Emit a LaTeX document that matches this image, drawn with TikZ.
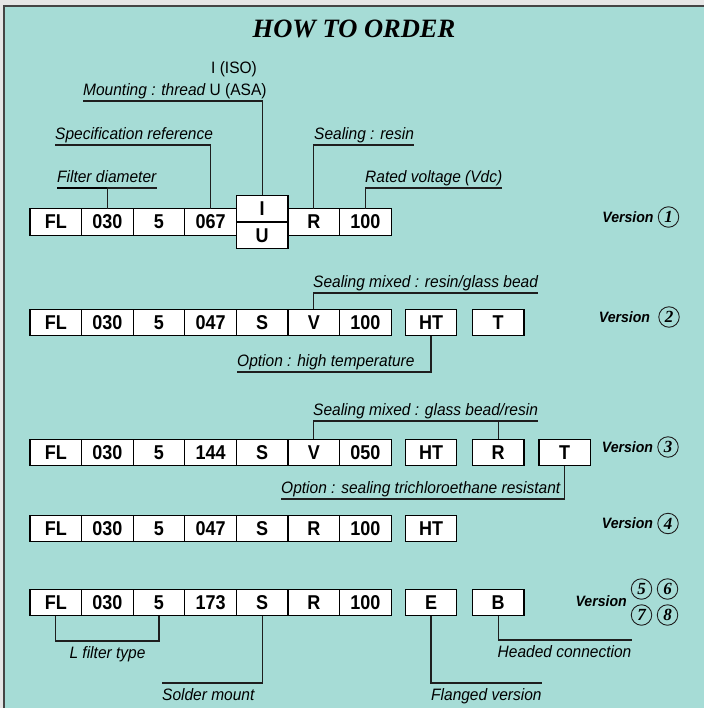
\documentclass[tikz,border=0pt]{standalone}
\usepackage{fontspec}
\usetikzlibrary{positioning}
\setmainfont{Liberation Sans}
\newfontfamily\cellfam[FakeStretch=0.9]{Liberation Sans}
\newfontfamily\tagfam[FakeStretch=0.94]{Liberation Sans}
\newfontfamily\titlefam{Liberation Serif}
\definecolor{panel}{HTML}{A6DCD6}
\definecolor{rim}{HTML}{E6E6E6}
\definecolor{edge}{HTML}{454545}
\definecolor{ink}{HTML}{1E1E1E}
\tikzset{
  cell/.style={draw, line width=1.2pt, fill=white, minimum width=51.6, minimum height=26.5,
    inner sep=0pt, outer sep=0pt, font=\cellfam\bfseries\fontsize{20}{20}\selectfont},
  tag/.style={inner xsep=0pt, inner ysep=1.5pt, text height=12pt, text depth=4pt,
    font=\tagfam\itshape\fontsize{16.5}{18}\selectfont},
  tagb/.style={tag, inner ysep=5.5pt},
  lead/.style={draw=ink, line width=1.2pt},
  ver/.style={inner sep=0pt, font=\tagfam\bfseries\itshape\fontsize{15}{15}\selectfont},
  num/.style={circle, draw=ink, line width=0.9pt, minimum size=20.5, inner sep=0pt,
    font=\titlefam\bfseries\itshape\fontsize{17}{17}\selectfont},
}
\begin{document}
\begin{tikzpicture}[x=1pt, y=-1pt]
    \useasboundingbox (0,0) rectangle (704,708);
    \fill[rim] (0,0) rectangle (704,708);
    \fill[panel] (4,6) rectangle (704,708);
    \draw[edge, line width=2pt] (4,708) -- (4,6) -- (704,6);

    \node[font=\titlefam\bfseries\itshape\fontsize{26.5}{28}\selectfont] (title) at (354,29) {HOW TO ORDER};

    % version 1
    \node[cell] (a1) at (55.8,222) {FL};
    \node[cell, right=0pt of a1] (a2) {030};
    \node[cell, right=0pt of a2] (a3) {5};
    \node[cell, right=0pt of a3] (a4) {067};
    \node[cell, above right=0pt and 0pt of a4.east] (a5) {I};
    \node[cell, below=0pt of a5] (a6) {U};
    \node[cell, right=0pt of a5.south east] (a7) {R};
    \node[cell, right=0pt of a7] (a8) {100};

    \node[tag, anchor=south west] (dia) at (57,188) {Filter diameter};
    \draw[lead] (dia.south west) -- (dia.south east);
    \draw[line width=2pt] (dia.south west) -- (a2.north |- dia.south);
    \draw[lead] (a2.north) -- (a2.north |- dia.south);
    \node[tag, anchor=south west] (spec) at (55,145) {Specification reference};
    \draw[lead] (a4.north) |- (spec.south west);
    \node[tag, anchor=south west] (mount) at (83,101) {Mounting : thread \upshape U (ASA)};
    \draw[lead] (a5.north) |- (mount.south west);
    \node[tag, anchor=base west, font=\tagfam\fontsize{16.5}{18}\selectfont] (iso) at (211,74) {I (ISO)};
    \node[tag, anchor=south west] (sres) at (314,145) {Sealing : resin};
    \draw[lead] (a7.north) |- (sres.south east);
    \node[tag, anchor=south west] (volt) at (365,188) {Rated voltage (Vdc)};
    \draw[lead] (a8.north) |- (volt.south east);

    \node[num] (n1) at (668.5,217) {1};
    \node[ver, left=4pt of n1] (v1) {Version};

    % version 2
    \node[cell] (b1) at (55.8,322.5) {FL};
    \node[cell, right=0pt of b1] (b2) {030};
    \node[cell, right=0pt of b2] (b3) {5};
    \node[cell, right=0pt of b3] (b4) {047};
    \node[cell, right=0pt of b4] (b5) {S};
    \node[cell, right=0pt of b5] (b6) {V};
    \node[cell, right=0pt of b6] (b7) {100};
    \node[cell, right=14pt of b7] (b8) {HT};
    \node[cell, right=15.5pt of b8] (b9) {T};

    \node[tag, anchor=south west] (mix2) at (313,293) {Sealing mixed : resin/glass bead};
    \draw[lead] (b6.north) |- (mix2.south east);
    \node[tag, anchor=south west] (hot) at (237,372) {Option : high temperature};
    \draw[lead] (b8.south) |- (hot.south west);

    \node[num] (n2) at (669,317) {2};
    \node[ver, left=8pt of n2] (v2) {Version};

    % version 3
    \node[cell] (c1) at (55.8,452.5) {FL};
    \node[cell, right=0pt of c1] (c2) {030};
    \node[cell, right=0pt of c2] (c3) {5};
    \node[cell, right=0pt of c3] (c4) {144};
    \node[cell, right=0pt of c4] (c5) {S};
    \node[cell, right=0pt of c5] (c6) {V};
    \node[cell, right=0pt of c6] (c7) {050};
    \node[cell, right=14pt of c7] (c8) {HT};
    \node[cell, right=15.5pt of c8] (c9) {R};
    \node[cell, right=15pt of c9] (c10) {T};

    \node[tag, anchor=south west] (mix3) at (313,421) {Sealing mixed : glass bead/resin};
    \draw[lead] (c6.north) |- (mix3.south east);
    \draw[lead] (c9.north) -- (c9.north |- mix3.south);
    \node[tag, anchor=south west] (tri) at (281,499) {Option : sealing trichloroethane resistant};
    \draw[lead] (c10.south) |- (tri.south west);

    \node[num] (n3) at (668,447) {3};
    \node[ver, left=4pt of n3] (v3) {Version};

    % version 4
    \node[cell] (d1) at (55.8,528.5) {FL};
    \node[cell, right=0pt of d1] (d2) {030};
    \node[cell, right=0pt of d2] (d3) {5};
    \node[cell, right=0pt of d3] (d4) {047};
    \node[cell, right=0pt of d4] (d5) {S};
    \node[cell, right=0pt of d5] (d6) {R};
    \node[cell, right=0pt of d6] (d7) {100};
    \node[cell, right=14pt of d7] (d8) {HT};

    \node[num] (n4) at (668,523.5) {4};
    \node[ver, left=4pt of n4] (v4) {Version};

    % versions 5 to 8
    \node[cell] (e1) at (55.8,602.5) {FL};
    \node[cell, right=0pt of e1] (e2) {030};
    \node[cell, right=0pt of e2] (e3) {5};
    \node[cell, right=0pt of e3] (e4) {173};
    \node[cell, right=0pt of e4] (e5) {S};
    \node[cell, right=0pt of e5] (e6) {R};
    \node[cell, right=0pt of e6] (e7) {100};
    \node[cell, right=14pt of e7] (e8) {E};
    \node[cell, right=15.5pt of e8] (e9) {B};

    \node[tagb, anchor=north] (lft) at (107.5,641) {L filter type};
    \draw[lead] (e1.south) |- (lft.north) -| (e3.south);
    \node[tagb, anchor=north west] (sold) at (162,683) {Solder mount};
    \draw[lead] (e5.south) |- (sold.north west);
    \node[tagb, anchor=north west] (flan) at (431,683) {Flanged version};
    \draw[lead] (e8.south) |- (flan.north east);
    \node[tagb, anchor=north west] (head) at (497.5,640) {Headed connection};
    \draw[lead] (e9.south) |- (head.north east);

    \node[num] (n5) at (641.5,589) {5};
    \node[num] (n6) at (667.5,589) {6};
    \node[num] (n7) at (641.5,615) {7};
    \node[num] (n8) at (667.5,615) {8};
    \node[ver, anchor=east] (v5) at (627,601) {Version};
\end{tikzpicture}
\end{document}
